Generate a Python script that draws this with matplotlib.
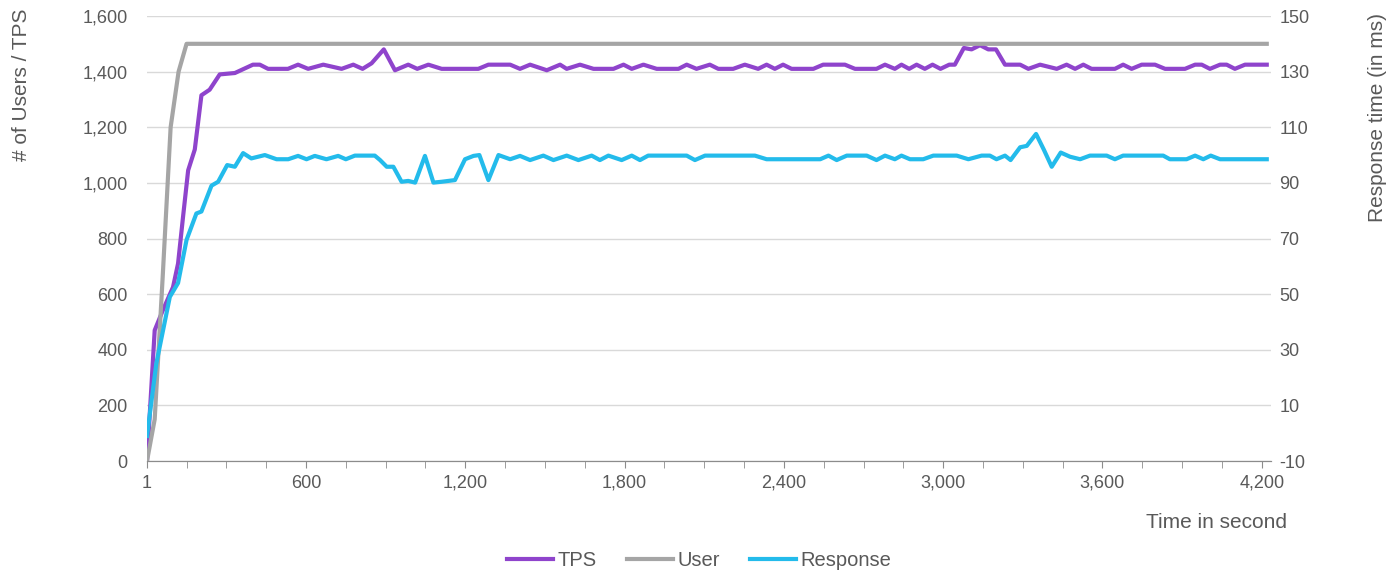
import matplotlib
matplotlib.use("Agg")
import matplotlib.pyplot as plt
from matplotlib.ticker import FuncFormatter, MultipleLocator

plt.rcParams['font.family'] = ['Liberation Sans', 'DejaVu Sans']
plt.rcParams['axes.unicode_minus'] = False

# TPS (left axis)
tps_x = [1, 30, 62, 99, 118, 137, 156, 181, 206, 237,
         275, 332, 400, 426, 457, 532, 570, 608, 665, 734,
         778, 813, 847, 893, 935, 985, 1019, 1061, 1111, 1249,
         1287, 1369, 1406, 1444, 1507, 1557, 1582, 1632, 1683, 1758,
         1796, 1827, 1871, 1921, 2003, 2034, 2071, 2121, 2153, 2209,
         2253, 2303, 2335, 2366, 2397, 2429, 2511, 2548, 2630, 2668,
         2749, 2781, 2818, 2843, 2872, 2900, 2931, 2960, 2990, 3023,
         3044, 3078, 3107, 3139, 3170, 3199, 3233, 3290, 3321, 3365,
         3428, 3465, 3497, 3528, 3559, 3647, 3678, 3710, 3748, 3798,
         3836, 3911, 3949, 3974, 4005, 4043, 4068, 4099, 4137, 4219]
tps_y = [0, 470, 545, 625, 710, 880, 1045, 1120, 1315, 1335,
         1390, 1395, 1425, 1425, 1410, 1410, 1425, 1410, 1425, 1410,
         1425, 1410, 1430, 1480, 1405, 1425, 1410, 1425, 1410, 1410,
         1425, 1425, 1410, 1425, 1405, 1425, 1410, 1425, 1410, 1410,
         1425, 1410, 1425, 1410, 1410, 1425, 1410, 1425, 1410, 1410,
         1425, 1410, 1425, 1410, 1425, 1410, 1410, 1425, 1425, 1410,
         1410, 1425, 1410, 1425, 1410, 1425, 1410, 1425, 1410, 1425,
         1425, 1485, 1480, 1495, 1480, 1480, 1425, 1425, 1410, 1425,
         1410, 1425, 1410, 1425, 1410, 1410, 1425, 1410, 1425, 1425,
         1410, 1410, 1425, 1425, 1410, 1425, 1425, 1410, 1425, 1425]

# virtual users (left axis)
user_x = [1, 30, 60, 90, 120, 150, 4219]
user_y = [0, 150, 660, 1200, 1400, 1500, 1500]

# response time in ms (right axis)
resp_x = [1, 36, 87, 118, 150, 187, 206, 244, 269, 303,
          332, 363, 394, 445, 489, 533, 570, 602, 633, 677,
          721, 750, 784, 859, 879, 904, 929, 960, 985, 1011,
          1048, 1080, 1111, 1161, 1199, 1231, 1253, 1287, 1325, 1369,
          1406, 1444, 1494, 1532, 1582, 1626, 1676, 1707, 1739, 1789,
          1827, 1858, 1889, 2034, 2065, 2103, 2291, 2335, 2537, 2568,
          2599, 2637, 2712, 2749, 2781, 2818, 2843, 2875, 2925, 2963,
          3051, 3095, 3145, 3176, 3201, 3233, 3254, 3290, 3315, 3350,
          3380, 3409, 3443, 3478, 3516, 3553, 3616, 3647, 3678, 3829,
          3854, 3917, 3949, 3980, 4008, 4043, 4219]
resp_ms = [-1, 25, 49, 54, 69.5, 79, 79.7, 89, 90.4, 96.4,
           95.8, 100.7, 98.8, 100, 98.5, 98.5, 99.7, 98.5, 99.7, 98.5,
           99.7, 98.5, 99.8, 99.8, 98.2, 95.8, 95.8, 90.4, 90.7, 90.1,
           99.7, 90.1, 90.4, 91, 98.5, 99.7, 100, 91, 100, 98.5,
           99.7, 98.2, 99.8, 98.2, 99.8, 98.2, 99.8, 98.2, 99.8, 98.2,
           99.8, 98.2, 99.8, 99.8, 98.2, 99.8, 99.8, 98.5, 98.5, 99.8,
           98.2, 99.8, 99.8, 98.2, 99.8, 98.5, 99.8, 98.5, 98.5, 99.8,
           99.8, 98.5, 99.8, 99.8, 98.5, 99.8, 98.2, 102.8, 103.3, 107.6,
           101.8, 95.8, 100.9, 99.4, 98.5, 99.8, 99.8, 98.5, 99.8, 99.8,
           98.5, 98.5, 99.8, 98.5, 99.8, 98.5, 98.5]

x_major = [1, 600, 1200, 1800, 2400, 3000, 3600, 4200]
left_ticks = list(range(0, 1601, 200))
right_ticks = list(range(-10, 151, 20))

txt = '#595959'
grid_col = '#d9d9d9'
axis_col = '#8c8c8c'
tick_fs = 13
title_fs = 15

fig = plt.figure(figsize=(13.98, 5.76), dpi=100)
ax = fig.add_axes([147/1398, 115/576, 1124/1398, 445/576])
ax2 = ax.twinx()

l1, = ax.plot(tps_x, tps_y, color='#8f44cc', lw=3, solid_joinstyle='round', label='TPS')
l2, = ax.plot(user_x, user_y, color='#a5a5a5', lw=3, solid_joinstyle='round', label='User')
l3, = ax2.plot(resp_x, resp_ms, color='#23bbeb', lw=3, solid_joinstyle='round', label='Response')

ax.set_xlim(1, 4235)
ax.set_ylim(0, 1600)
ax2.set_ylim(-10, 150)
ax.set_yticks(left_ticks)
ax2.set_yticks(right_ticks)
ax.set_xticks(x_major)
ax.xaxis.set_minor_locator(MultipleLocator(150))
ax.yaxis.set_major_formatter(FuncFormatter(lambda v, p: '{:,.0f}'.format(v)))
ax.xaxis.set_major_formatter(FuncFormatter(lambda v, p: '{:,.0f}'.format(v)))

ax.grid(axis='y', color=grid_col, lw=1)
ax.set_axisbelow(True)
for a in (ax, ax2):
    for s in ('top', 'left', 'right'):
        a.spines[s].set_visible(False)
    a.spines['bottom'].set_color(axis_col)
ax.tick_params(axis='x', which='both', length=5, color=axis_col, labelsize=tick_fs,
               labelcolor=txt, pad=5)
ax.tick_params(axis='y', length=0, labelsize=tick_fs, labelcolor=txt, pad=14)
ax2.tick_params(axis='y', length=0, labelsize=tick_fs, labelcolor=txt, pad=6)

ax.set_ylabel('# of Users / TPS', fontsize=title_fs, color=txt)
ax.yaxis.set_label_coords(-0.103, 0.845)
ax2.set_ylabel('Response time (in ms)', fontsize=title_fs, color=txt, rotation=90)
ax2.yaxis.set_label_coords(1.086, 0.771)

fig.text(1287/1398, 1 - 523/576, 'Time in second', ha='right', va='center',
         fontsize=title_fs, color=txt)

fig.legend([l1, l2, l3], ['TPS', 'User', 'Response'], loc='center',
           bbox_to_anchor=(0.5, 1 - 561/576), ncol=3, frameon=False,
           fontsize=14.5, labelcolor=txt, handlelength=2.3, handletextpad=0.2,
           columnspacing=1.5)

fig.savefig('out.png', dpi=100)
